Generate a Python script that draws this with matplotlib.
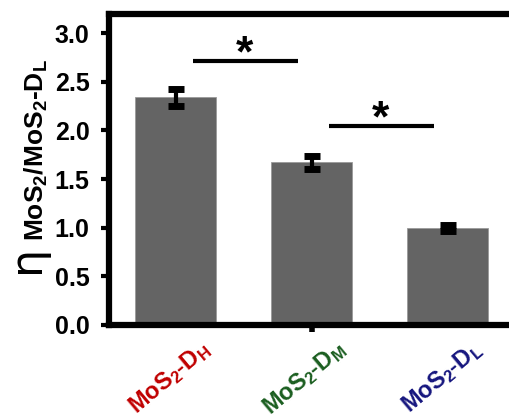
import matplotlib
matplotlib.use('Agg')
import matplotlib.pyplot as plt
import matplotlib.transforms as mtransforms

plt.rcParams['font.family'] = 'Liberation Sans'
plt.rcParams['font.weight'] = 'bold'
plt.rcParams['mathtext.fontset'] = 'custom'
plt.rcParams['mathtext.rm'] = 'Liberation Sans:bold'
plt.rcParams['mathtext.bf'] = 'Liberation Sans:bold'
plt.rcParams['mathtext.default'] = 'regular'

# data
samples = [r'MoS$_2$-D$_H$', r'MoS$_2$-D$_M$', r'MoS$_2$-D$_L$']
label_colors = ['#c00000', '#1b5e20', '#16167e']
ratio = [2.34, 1.67, 1.00]
ratio_err = [0.085, 0.07, 0.03]
# significance brackets: (from bar, to bar, height)
sig_pairs = [(0, 1, 2.71), (1, 2, 2.05)]
yticks = [0.0, 0.5, 1.0, 1.5, 2.0, 2.5, 3.0]

W, H = 509, 420
fig = plt.figure(figsize=(W / 100, H / 100), dpi=100)
ax = fig.add_axes([109 / W, (H - 325) / H, 431 / W, 311 / H])

x = list(range(len(samples)))
ax.bar(x, ratio, width=0.6, color='#646464', edgecolor='#9a9a9a', linewidth=0.6, zorder=2)
ax.errorbar(x, ratio, yerr=ratio_err, fmt='none', ecolor='black',
            elinewidth=3, capsize=5.5, capthick=5, zorder=3)

for a, b, h in sig_pairs:
    ax.plot([a + 0.13, b - 0.1], [h, h], color='black', lw=3, solid_capstyle='butt', zorder=3)
    ax.text((a + b) / 2 + 0.01, h - 0.15, '*', ha='center', va='bottom',
            fontsize=32, fontweight='bold')

ax.set_xlim(-0.49, 2.68)
ax.set_ylim(0, 3.196)
ax.set_yticks(yticks)
ax.set_yticklabels([f'{v:.1f}' for v in yticks], fontsize=18, fontweight='bold')
ax.set_xticks([1])
ax.set_xticklabels([''])
ax.tick_params(axis='y', direction='out', length=6, width=3, pad=8)
ax.tick_params(axis='x', direction='out', length=5, width=4)

for side in ['left', 'bottom', 'top']:
    ax.spines[side].set_linewidth(4.5)
ax.spines['right'].set_visible(False)

# rotated, coloured category labels
trans = mtransforms.blended_transform_factory(ax.transData, fig.transFigure)
for i, (lab, col) in enumerate(zip(samples, label_colors)):
    ax.text(i + 0.17, 1 - 337 / H, lab, transform=trans, rotation=40,
            rotation_mode='anchor', ha='right', va='top', color=col,
            fontsize=17, fontweight='bold')

# y label: large eta followed by the ratio name
fig.text(27 / W, 1 - 259 / H, '\u03b7', rotation=90, ha='center', va='center',
         fontsize=32, fontweight='normal', family='DejaVu Sans')
fig.text(36 / W, 1 - 150 / H, r'MoS$_2$/MoS$_2$-D$_L$', rotation=90,
         ha='center', va='center', fontsize=19, fontweight='bold')

fig.savefig('out.png', dpi=100)
